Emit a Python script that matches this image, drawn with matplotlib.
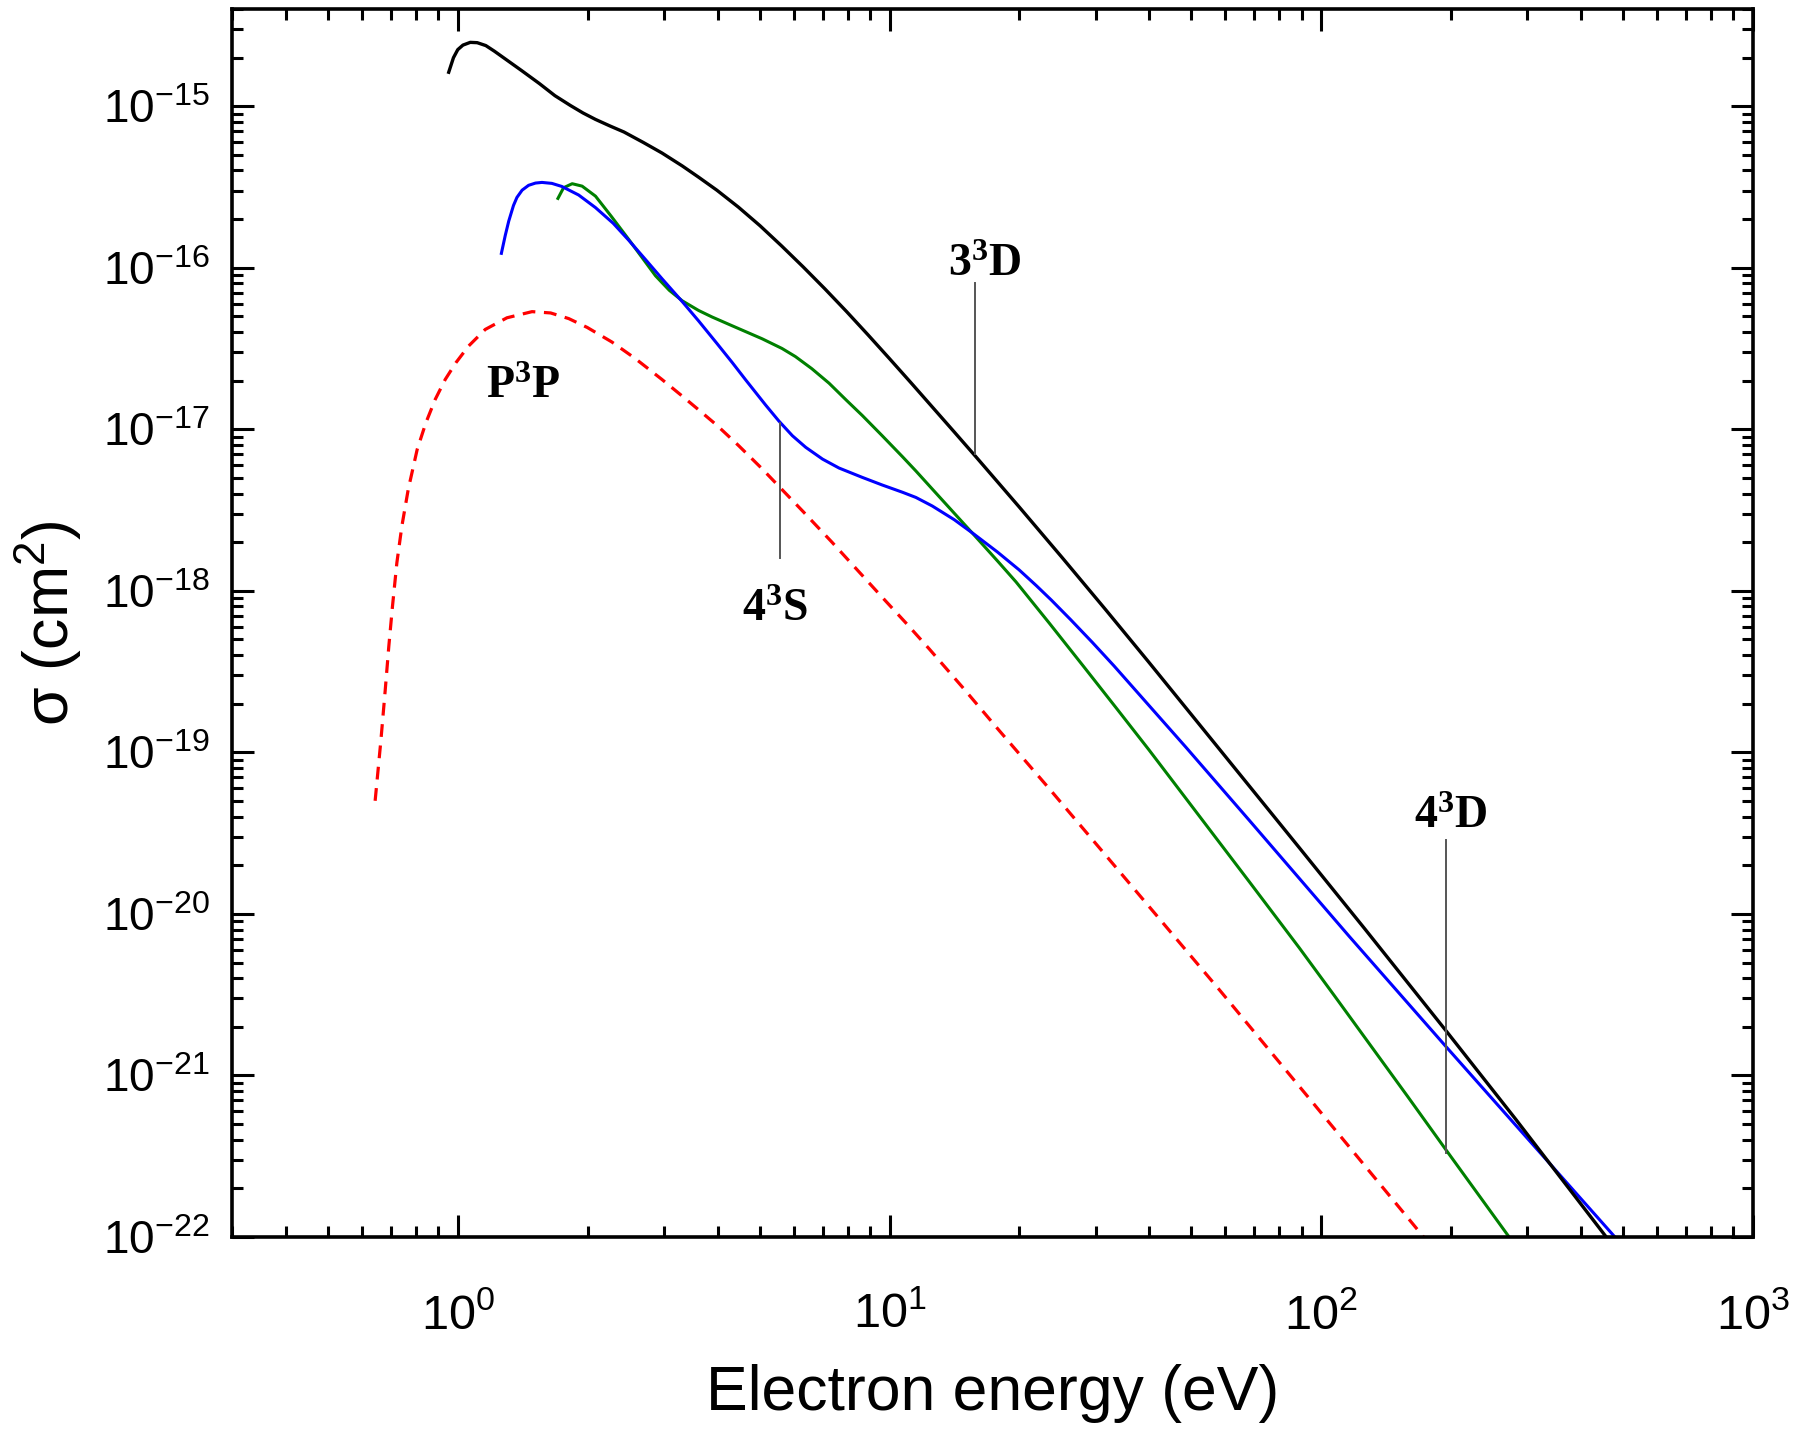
import numpy as np
import matplotlib
matplotlib.use('Agg')
from matplotlib import pyplot as plt
from matplotlib.ticker import LogLocator, NullFormatter, FixedLocator

plt.rcParams['font.family'] = ['Liberation Sans', 'DejaVu Sans']

# values as log10(E / eV) and log10(sigma / cm^2)

# 3^3D (black)
lx_33d = [-0.021, -0.01, 0.0, 0.012, 0.029, 0.045, 0.065, 0.085, 0.106, 0.148, 0.189, 0.225, 0.261, 0.29,
          0.319, 0.352, 0.385, 0.43, 0.473, 0.52, 0.558, 0.6, 0.65, 0.7, 0.75, 0.8, 0.85, 0.9, 0.95, 1.0,
          1.05, 1.1, 1.15, 1.2, 1.3, 1.4, 1.5, 1.6, 1.764, 1.949, 2.1, 2.29, 2.45, 2.66]
ly_33d = [-14.79, -14.70, -14.65, -14.622, -14.605, -14.607, -14.625, -14.66, -14.70, -14.78, -14.86,
          -14.935, -14.996, -15.042, -15.082, -15.122, -15.16, -15.225, -15.29, -15.37, -15.44, -15.52,
          -15.625, -15.74, -15.865, -15.995, -16.13, -16.27, -16.415, -16.563, -16.713, -16.865, -17.017,
          -17.17, -17.48, -17.795, -18.115, -18.44, -18.98, -19.59, -20.09, -20.727, -21.27, -22.0]

# 4^3S (blue)
lx_43s = [0.101, 0.11, 0.118, 0.129, 0.137, 0.149, 0.164, 0.18, 0.195, 0.218, 0.241, 0.28, 0.319, 0.36,
          0.396, 0.435, 0.473, 0.52, 0.558, 0.6, 0.636, 0.667, 0.713, 0.744, 0.775, 0.806, 0.845, 0.883,
          0.937, 0.983, 1.03, 1.061, 1.099, 1.15, 1.196, 1.25, 1.3, 1.34, 1.375, 1.42, 1.47, 1.52, 1.601,
          1.687, 1.833, 2.065, 2.29, 2.68]
ly_43s = [-15.911, -15.80, -15.712, -15.615, -15.565, -15.52, -15.49, -15.476, -15.472, -15.478, -15.497,
          -15.55, -15.628, -15.725, -15.83, -15.95, -16.068, -16.21, -16.33, -16.468, -16.588, -16.695,
          -16.85, -16.95, -17.04, -17.112, -17.185, -17.24, -17.298, -17.345, -17.39, -17.422, -17.475,
          -17.56, -17.65, -17.76, -17.87, -17.968, -18.058, -18.18, -18.32, -18.465, -18.71, -18.97,
          -19.42, -20.14, -20.825, -22.0]

# green curve (no label)
lx_green = [0.232, 0.245, 0.265, 0.288, 0.319, 0.355, 0.396, 0.458, 0.49, 0.52, 0.558, 0.589, 0.636,
            0.705, 0.751, 0.782, 0.82, 0.86, 0.9, 0.937, 0.983, 1.03, 1.061, 1.099, 1.15, 1.196, 1.25,
            1.293, 1.37, 1.45, 1.525, 1.601, 1.833, 1.949, 2.03, 2.2, 2.29, 2.435]
ly_green = [-15.571, -15.505, -15.48, -15.495, -15.557, -15.68, -15.825, -16.05, -16.14, -16.205, -16.265,
            -16.305, -16.36, -16.44, -16.50, -16.55, -16.625, -16.715, -16.82, -16.915, -17.04, -17.17,
            -17.258, -17.37, -17.52, -17.655, -17.815, -17.945, -18.2, -18.47, -18.725, -18.985, -19.8,
            -20.21, -20.505, -21.13, -21.465, -22.0]

# P^3P (red dashed)
lx_p3p = [-0.1914, -0.1782, -0.1682, -0.1597, -0.1512, -0.1411, -0.1295, -0.1148, -0.094, -0.0739,
          -0.0522, -0.0291, -0.0043, 0.025, 0.0637, 0.1139, 0.172, 0.215, 0.257, 0.3, 0.357, 0.41, 0.473,
          0.52, 0.558, 0.6, 0.65, 0.705, 0.748, 0.8, 0.867, 0.925, 0.983, 1.04, 1.092, 1.17, 1.254, 1.37,
          1.5, 1.625, 1.764, 1.973, 2.237]
ly_p3p = [-19.3, -18.93, -18.62, -18.343, -18.095, -17.827, -17.6, -17.373, -17.125, -16.96, -16.815,
          -16.692, -16.588, -16.485, -16.382, -16.31, -16.272, -16.28, -16.315, -16.37, -16.46, -16.56,
          -16.692, -16.795, -16.88, -16.975, -17.1, -17.245, -17.365, -17.51, -17.70, -17.87, -18.04,
          -18.205, -18.36, -18.6, -18.865, -19.225, -19.635, -20.03, -20.47, -21.145, -22.0]

# labels: prefix, suffix, energy, sigma at baseline
lab_pre = ['3', '4', 'P', '4']
lab_suf = ['D', 'S', 'P', 'D']
lab_x = [16.6, 5.42, 1.42, 199]
lab_y = [8.83e-17, 6.49e-19, 1.57e-17, 3.4e-20]

# pointer lines: energy, sigma top, sigma bottom
ptr_x = [15.8, 5.59, 194]
ptr_top = [8.07e-17, 1.1e-17, 2.88e-20]
ptr_bot = [6.98e-18, 1.6e-18, 3.3e-22]

x_ticks = [1, 10, 100, 1000]
x_labels = [r'$\mathregular{10^{%d}}$' % n for n in [0, 1, 2, 3]]
y_ticks = [1e-22, 1e-21, 1e-20, 1e-19, 1e-18, 1e-17, 1e-16, 1e-15]
y_labels = [r'$\mathregular{10^{-%d}}$' % n for n in [22, 21, 20, 19, 18, 17, 16, 15]]

fig = plt.figure(figsize=(18, 14.37), dpi=100)
ax = fig.add_axes([0.1289, 0.1392, 0.845, 0.8546])

def curve(lx, ly):
    return np.power(10.0, lx), np.power(10.0, ly)

ax.plot(*curve(lx_p3p, ly_p3p), color='#ff0000', lw=2.3, dashes=(4, 2.7))
ax.plot(*curve(lx_green, ly_green), color='#008000', lw=2.2)
ax.plot(*curve(lx_43s, ly_43s), color='#0000ff', lw=2.2)
ax.plot(*curve(lx_33d, ly_33d), color='black', lw=2.4)

ax.set_xscale('log')
ax.set_yscale('log')
ax.set_xlim(0.3, 1000)
ax.set_ylim(1e-22, 4e-15)

for x, t0, t1 in zip(ptr_x, ptr_top, ptr_bot):
    ax.plot([x, x], [t0, t1], color='#555555', lw=1.4)

for pre, suf, x, y in zip(lab_pre, lab_suf, lab_x, lab_y):
    ax.text(x, y, r'$\mathregular{%s^{3}%s}$' % (pre, suf), ha='center', va='baseline',
            fontsize=33, fontweight='bold', family=['Liberation Serif', 'DejaVu Serif'])

ax.xaxis.set_major_locator(FixedLocator(x_ticks))
ax.set_xticklabels(x_labels)
ax.yaxis.set_major_locator(FixedLocator(y_ticks))
ax.set_yticklabels(y_labels)
ax.xaxis.set_minor_locator(LogLocator(base=10, subs=np.arange(2, 10), numticks=100))
ax.yaxis.set_minor_locator(LogLocator(base=10, subs=np.arange(2, 10), numticks=100))
ax.xaxis.set_minor_formatter(NullFormatter())
ax.yaxis.set_minor_formatter(NullFormatter())

ax.tick_params(which='both', direction='in', top=True, right=True, width=2.2)
ax.tick_params(which='major', length=16, labelsize=33)
ax.tick_params(which='minor', length=8)
ax.tick_params(axis='x', which='major', pad=40, labelsize=35)
ax.tick_params(axis='y', which='major', pad=16)
for sp in ax.spines.values():
    sp.set_linewidth(2.6)

ax.set_xlabel('Electron energy (eV)', fontsize=45, labelpad=18)
ax.set_ylabel(r'σ (cm$^{\mathregular{2}}$)', fontsize=45, labelpad=14)

fig.savefig('out.png', dpi=100)
